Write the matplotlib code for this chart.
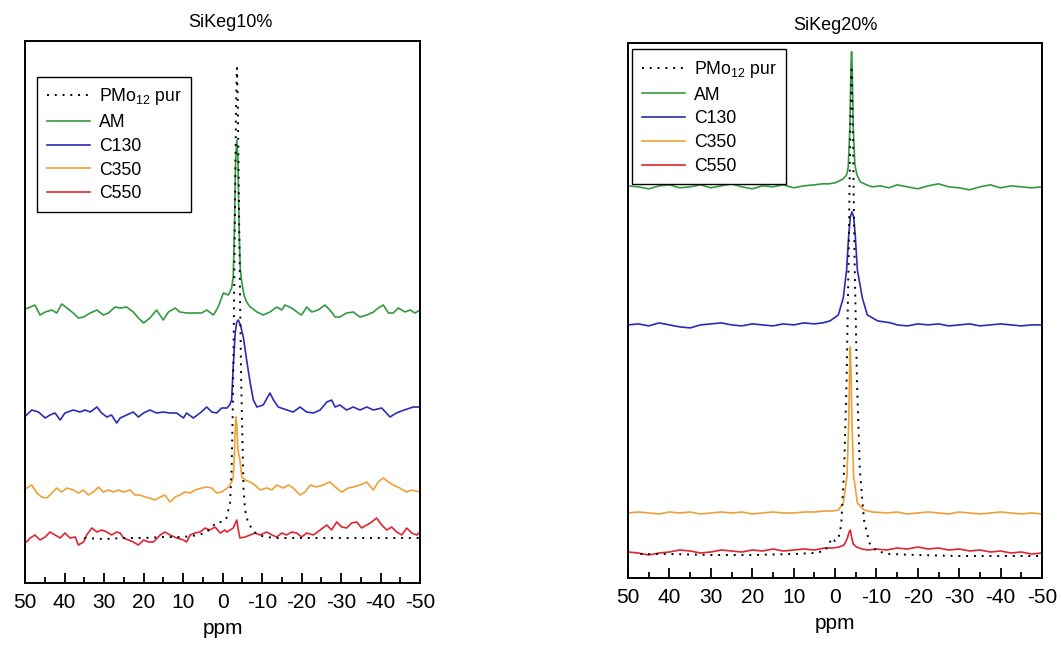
import matplotlib
matplotlib.use("Agg")
import matplotlib.pyplot as plt
from matplotlib.ticker import MultipleLocator

plt.rcParams['font.family'] = ['Liberation Sans', 'DejaVu Sans']
plt.rcParams['mathtext.fontset'] = 'custom'
plt.rcParams['mathtext.rm'] = 'Liberation Sans'
plt.rcParams['axes.unicode_minus'] = False

# ---------------- SiKeg10% (left panel) ----------------
# intensities are given relative to each spectrum's own baseline
L_AM_ppm = [50.4, 47.5, 46.2, 44.9, 43.2, 42.0, 40.7, 39.4, 37.8, 36.5, 35.2, 33.5, 31.8, 30.2, 28.9, 27.2,
            25.9, 24.3, 22.6, 21.3, 20.0, 18.4, 16.7, 15.0, 13.7, 12.0, 10.8, 9.1, 7.4, 5.3, 4.0, 2.3, 1.1,
            -0.2, -1.5, -2.3, -2.7, -3.0, -3.3, -3.6, -3.9, -4.2, -4.5, -4.9, -5.5, -6.1, -7.0, -7.4, -8.7,
            -10.3, -12.0, -13.7, -15.0, -15.8, -17.5, -19.2, -20.0, -21.3, -22.6, -24.2, -25.9, -27.2, -28.5,
            -29.7, -31.4, -33.1, -34.8, -36.5, -38.2, -39.4, -40.7, -42.0, -43.2, -44.5, -46.2, -47.5, -48.7, -50.0]
L_AM_int = [0, 5, -5, -2, 0, -3, 6, 2, -3, -8, -7, -3, 0, -5, -3, 3,
            2, 3, -2, -8, -13, -8, 0, -10, -2, 2, -2, -3, -3, -3, 0, -5, 3,
            17, 15, 22, 33, 80, 150, 170, 150, 80, 40, 27, 14, 8, 3, 2, -2,
            -5, -2, 3, 0, 5, 2, -3, -5, 3, -2, 0, 5, 0, -7,
            -7, -3, -2, -7, -5, -2, 2, 5, -3, -3, 2, -2, 0, -3, 0]

L_C130_ppm = [50.4, 48.3, 46.6, 44.9, 43.7, 42.4, 41.1, 39.9, 37.8, 36.1, 34.8, 33.5, 31.8, 30.6, 29.3, 28.1,
              26.8, 25.9, 24.3, 22.6, 21.3, 20.0, 18.4, 16.7, 15.0, 13.3, 11.6, 9.9, 9.1, 7.4, 5.7, 4.0, 2.7,
              1.5, 0.2, -1.1, -1.8, -2.3, -2.7, -3.2, -3.6, -4.0, -4.6, -5.3, -6.1, -7.0, -7.8, -8.7, -10.3,
              -12.0, -12.9, -14.1, -16.3, -17.9, -19.6, -21.3, -23.0, -24.7, -26.4, -27.6, -28.5, -29.7, -31.4,
              -33.1, -34.8, -36.5, -38.2, -40.3, -42.4, -44.0, -46.0, -48.3, -50.0]
L_C130_int = [-8, 0, -2, -8, -5, -3, -10, -3, 0, -2, 0, -2, 3, -3, -7, -5,
              -13, -8, -5, -2, -7, -3, 0, -3, -2, -3, -3, -8, -3, -8, -3, 3, -2,
              -3, 2, 2, 5, 10, 43, 77, 88, 90, 84, 72, 50, 27, 10, 3, 5,
              17, 10, 3, 0, -2, 3, -2, -3, 0, 8, 10, 3, 5, 0,
              3, 0, 3, 0, 2, -7, -3, 0, 3, 3]

L_C350_ppm = [50.5, 49.6, 48.3, 47.0, 45.8, 44.5, 43.2, 42.0, 40.7, 39.4, 37.8, 36.5, 35.2, 34.0, 32.7, 31.4,
              30.2, 28.9, 27.6, 26.4, 25.1, 23.4, 22.2, 20.9, 19.6, 18.4, 17.1, 15.8, 14.6, 13.3, 12.0, 10.8,
              9.5, 8.2, 7.0, 5.3, 4.0, 2.7, 1.5, 0.2, -1.5, -2.3, -2.7, -3.0, -3.2, -3.4, -3.6, -3.9, -4.4,
              -4.9, -5.7, -7.0, -8.2, -9.5, -11.2, -12.5, -13.7, -15.4, -16.7, -17.9, -19.6, -20.9, -22.2,
              -23.8, -25.5, -27.2, -28.5, -30.2, -31.8, -33.1, -34.8, -36.5, -38.2, -39.4, -40.7, -42.0, -43.2,
              -44.9, -46.6, -47.9, -50.0]
L_C350_int = [0, 2, 5, -3, -7, -8, -3, 2, -2, 2, 0, -3, 0, -5, -2, 3,
              -2, 0, -2, 0, -2, 0, -5, -5, -7, -8, -10, -7, -5, -12, -7, -5,
              -2, -3, 0, 2, 3, 2, -3, -2, 3, 8, 13, 35, 60, 73, 65, 40, 30,
              13, 10, 8, 5, 0, 2, 0, 5, 2, 5, 2, -5, -2, 5,
              3, 5, 8, 3, -2, 2, 3, 5, 8, 0, 8, 12, 8, 5,
              2, -2, 0, -2]

L_C550_ppm = [50.3, 49.6, 48.7, 47.5, 46.2, 44.9, 43.7, 42.4, 41.1, 39.9, 38.6, 37.3, 36.5, 35.2, 34.4, 33.1,
              31.8, 30.6, 29.3, 28.1, 26.8, 25.9, 25.1, 23.8, 22.6, 21.3, 20.0, 18.8, 17.5, 15.8, 14.6, 13.3,
              11.6, 9.9, 9.1, 8.2, 7.0, 5.7, 4.4, 3.2, 1.9, 0.6, -0.6, -1.1, -2.7, -3.6, -4.0, -4.4, -5.7,
              -7.0, -8.2, -9.5, -11.2, -12.5, -13.7, -15.0, -16.2, -17.5, -18.8, -20.0, -21.3, -23.0, -24.7,
              -26.4, -27.6, -28.9, -30.2, -31.4, -32.7, -34.0, -35.2, -36.5, -37.8, -39.0, -40.3, -41.6, -42.8,
              -44.1, -45.4, -46.6, -47.9, -49.2, -50.0]
L_C550_int = [-3, -5, -1, 2, -3, 0, 5, 2, -1, 4, -1, 0, -8, -5, 2, 9,
              5, 7, 5, 2, 5, 4, -1, -3, -5, -8, -3, -5, -5, 2, 5, 2,
              -1, -3, -5, 2, 4, 5, 9, 7, 10, 4, 7, 5, 9, 17, 7, -1, 0,
              2, 4, 2, 5, 2, 0, 4, 2, 5, 4, 0, 4, 2, 7,
              12, 7, 15, 10, 9, 14, 15, 9, 12, 15, 19, 12, 7, 10,
              5, 2, 9, 4, 2, 5]

L_REF_ppm = [35, 30, 25, 20, 15, 10, 6, 4, 2.5, 1.3, 0, -1.0, -1.9, -2.3, -2.6, -2.9, -3.2, -3.45, -3.65,
             -3.85, -4.1, -4.4, -4.7, -5.0, -5.3, -5.7, -6.3, -7.0, -8.0, -10, -13, -20, -30, -40, -50]
L_REF_int = [0, -1, 0, 0, 1, 1, 3, 6, 12, 16, 16, 20, 35, 70, 130, 230, 350, 440, 470,
             440, 350, 250, 160, 105, 50, 28, 18, 12, 6, 2, 0, 0, 0, 0, 0]

# ---------------- SiKeg20% (right panel) ----------------
R_AM_ppm = [50, 47.5, 45, 42.5, 40, 37.5, 35, 32.5, 30, 27.5, 25, 22.5, 20, 17.5, 15, 12.5, 10, 7.5, 5, 3,
            1.5, 0, -1.1, -2.0, -2.8, -3.2, -3.6, -3.85, -4.0, -4.15, -4.4, -4.8, -5.3, -6.1, -7.6, -9, -11,
            -13, -15, -17.5, -20, -22.5, -25, -27.5, -30, -32.5, -35, -37.5, -40, -42.5, -45, -47.5, -50]
R_AM_int = [1, 0, -2, 1, 2, -1, 0, 2, -1, 1, 3, 0, -2, 1, 0, 2, -1, 1, 2, 3,
            3, 4, 6, 8, 12, 20, 60, 120, 135, 120, 60, 22, 12, 5, 2, 0, 1,
            -1, 2, 0, -2, 1, 3, 0, -1, -3, 0, 2, -1, 1, 0, -1, 0]

R_C130_ppm = [50, 47.5, 45, 42.5, 40, 37.5, 35, 32.5, 30, 27.5, 25, 22.5, 20, 17.5, 15, 12.5, 10, 7.5, 5, 3,
              1.2, -0.8, -2.0, -2.8, -3.3, -3.7, -4.1, -4.5, -4.9, -5.4, -6.6, -7.8, -10.3, -13.5, -15, -17.5,
              -20, -22.5, -25, -27.5, -30, -32.5, -35, -37.5, -40, -42.5, -45, -47.5, -50]
R_C130_int = [0, 1, -1, 2, 0, -2, -3, 0, 1, 2, 0, -1, 1, 0, -1, 1, 0, 2, 1, 2,
              4, 10, 27, 55, 89, 108, 113, 108, 89, 55, 27, 10, 4, 2, 0, -1,
              1, 0, 1, -1, 0, 1, -1, 0, 1, 0, -1, 0, 0]

R_C350_ppm = [50, 47.5, 45, 42.5, 40, 37.5, 35, 32.5, 30, 27.5, 25, 22.5, 20, 17.5, 15, 12.5, 10, 7.5, 5, 2.5,
              0.5, -0.8, -2.0, -2.9, -3.3, -3.55, -3.7, -3.85, -4.1, -4.5, -5.4, -7.0, -9, -12.5, -15, -17.5,
              -20, -22.5, -25, -27.5, -30, -32.5, -35, -37.5, -40, -42.5, -45, -47.5, -50]
R_C350_int = [0, 1, 0, -1, 1, 0, 1, -1, 0, 1, 0, 1, -1, 0, 1, 0, 0, 1, 1, 2,
              2, 3, 10, 37, 89, 145, 166, 145, 89, 37, 10, 3, 1, 0, 1, -1,
              0, 1, 0, -1, 1, 0, -1, 0, 1, 0, -1, 0, -1]

R_C550_ppm = [50, 47.5, 45, 42.5, 40, 37.5, 35, 32.5, 30, 27.5, 25, 22.5, 20, 17.5, 15, 12.5, 10, 7.5, 5, 2.5,
              0.5, -1.0, -2.2, -3.0, -3.4, -3.7, -4.0, -4.4, -5.2, -6.5, -8, -10, -12.5, -15, -17.5, -20,
              -22.5, -25, -27.5, -30, -32.5, -35, -37.5, -40, -42.5, -45, -47.5, -50]
R_C550_int = [0, -1, -3, -1, 0, 2, 1, -1, 0, 2, 1, 0, 2, 1, 3, 1, 2, 3, 2, 4,
              4, 5, 7, 14, 20, 22, 15, 8, 5, 3, 2, 3, 2, 4, 3, 5,
              3, 4, 2, 3, 1, 2, 0, 1, -1, 0, -2, -1]

R_REF_ppm = [47, 40, 30, 20, 10, 5, 2.5, 1.5, 0.8, 0, -0.8, -1.5, -2.2, -2.8, -3.3, -3.7, -4.0, -4.3, -4.7,
             -5.3, -6.0, -7.0, -8.3, -10, -13, -20, -30, -40, -50]
R_REF_int = [1, 1, 0, 0, 1, 2, 4, 10, 17, 14, 16, 30, 85, 175, 300, 430, 485, 430, 300,
             175, 85, 35, 12, 4, 1, 0, -1, -1, -1]

LABELS = ["AM", "C130", "C350", "C550"]
REF_LABEL = "PMo$_{12}$ pur"
COLORS = ["#33993f", "#2b2bb5", "#f0a035", "#e02530"]

# vertical stacking of the spectra in each panel
L_OFFSETS = [273, 173, 93, 46]
L_REF_OFFSET = 45
R_OFFSETS = [391, 253, 65, 26]
R_REF_OFFSET = 23


def draw_panel(ax, title, spectra, offsets, ref, ref_offset, top, anchor, title_x, title_pad):
    """ Stacked spectra, dotted reference and legend. """
    handles = []
    for (ppm, inten), off, lab, col in zip(spectra, offsets, LABELS, COLORS):
        line, = ax.plot(ppm, [v + off for v in inten], color=col, lw=1.2, label=lab)
        handles.append(line)
    ref_line, = ax.plot(ref[0], [v + ref_offset for v in ref[1]], color="black",
                        ls=(0, (1, 3)), lw=1.4, label=REF_LABEL)

    ax.set_xlim(50, -50)
    ax.set_ylim(0, top)
    ax.set_yticks([])
    ax.xaxis.set_major_locator(MultipleLocator(10))
    ax.xaxis.set_minor_locator(MultipleLocator(5))
    ax.tick_params(axis="x", which="major", direction="in", length=7, width=1.3,
                   labelsize=15, pad=7)
    ax.tick_params(axis="x", which="minor", direction="in", length=4, width=1.3)
    ax.set_xlabel("ppm", fontsize=15, labelpad=5)
    ax.set_title(title, fontsize=13, pad=title_pad, x=title_x)
    for s in ax.spines.values():
        s.set_linewidth(1.4)

    leg = ax.legend([ref_line] + handles, [REF_LABEL] + LABELS, loc="upper left",
                    bbox_to_anchor=anchor, borderaxespad=0, fancybox=False,
                    edgecolor="black", framealpha=1, fontsize=12.7, handlelength=2.45,
                    handletextpad=0.5, labelspacing=0.38, borderpad=0.55)
    leg.get_frame().set_linewidth(1.0)


fig = plt.figure(figsize=(10.61, 6.48), dpi=100)
ax1 = fig.add_axes([0.0236, 0.1003, 0.3723, 0.8364])
ax2 = fig.add_axes([0.5919, 0.108, 0.3902, 0.826])

draw_panel(ax1, "SiKeg10%",
           [(L_AM_ppm, L_AM_int), (L_C130_ppm, L_C130_int), (L_C350_ppm, L_C350_int), (L_C550_ppm, L_C550_int)],
           L_OFFSETS, (L_REF_ppm, L_REF_int), L_REF_OFFSET, 542, (0.03, 0.934), 0.52, 10)
draw_panel(ax2, "SiKeg20%",
           [(R_AM_ppm, R_AM_int), (R_C130_ppm, R_C130_int), (R_C350_ppm, R_C350_int), (R_C550_ppm, R_C550_int)],
           R_OFFSETS, (R_REF_ppm, R_REF_int), R_REF_OFFSET, 535, (0.01, 0.988), 0.5, 9)

fig.savefig("out.png", dpi=100)
